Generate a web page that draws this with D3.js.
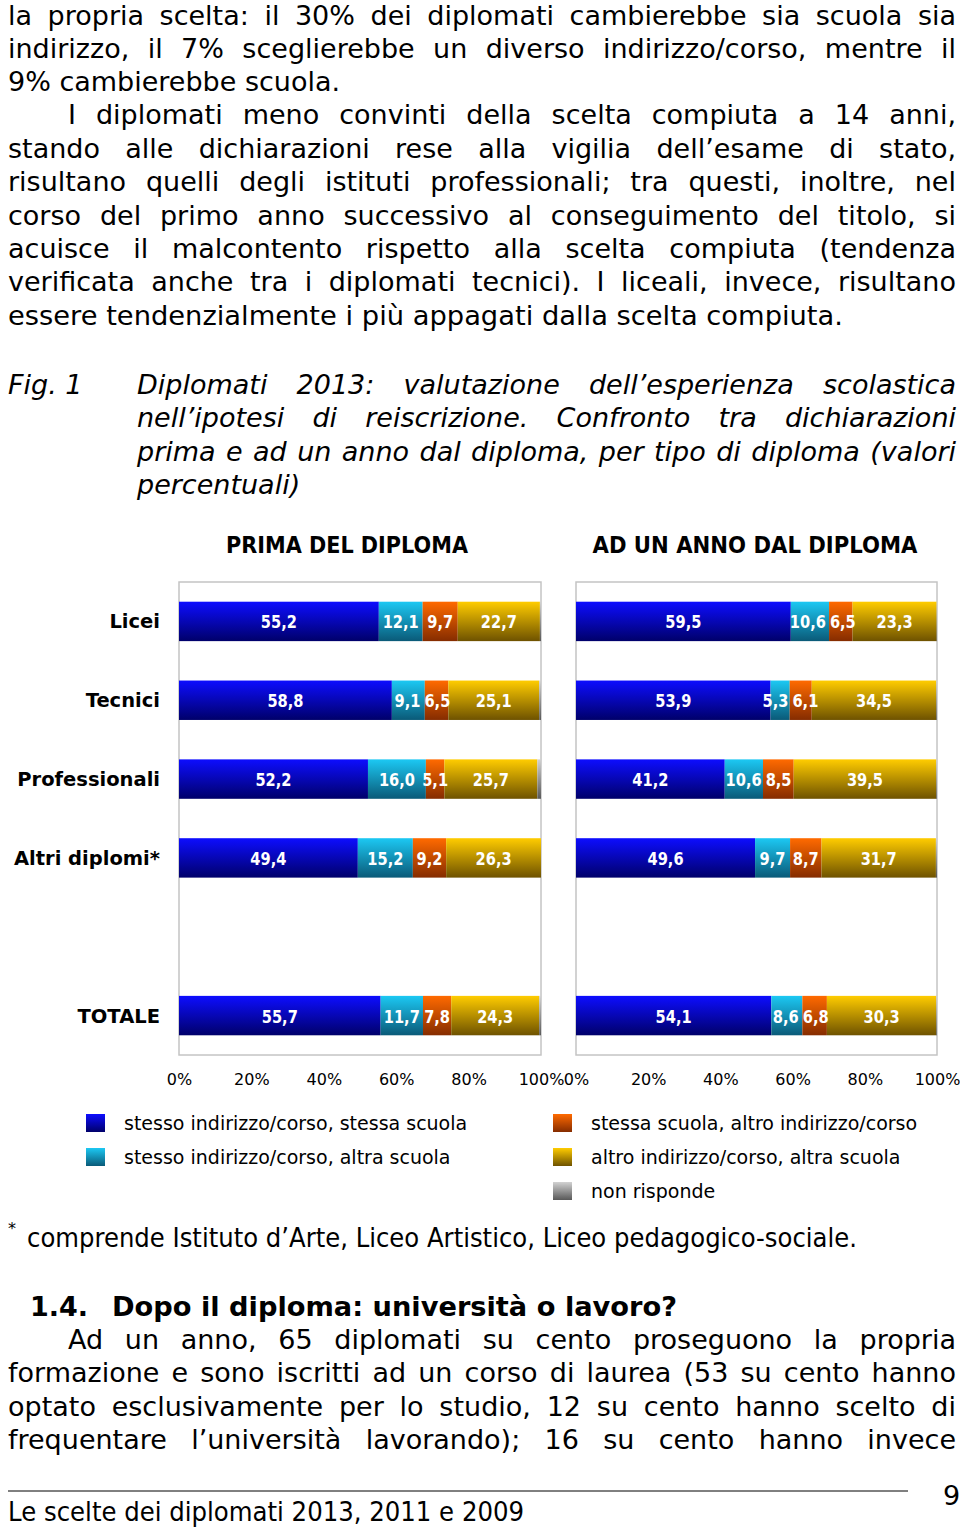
<!DOCTYPE html>
<html><head><meta charset="utf-8">
<script src="https://cdn.jsdelivr.net/npm/d3@7"></script>
<style>body{margin:0;background:#fff} svg{display:block}</style>
</head><body>
<svg id="c" width="960" height="1528"></svg>
<script>
// ---------- DATA ----------
const categories = ["Licei", "Tecnici", "Professionali", "Altri diplomi*", "TOTALE"];
const rowSlots = ["Licei", "Tecnici", "Professionali", "Altri diplomi*", "", "TOTALE"];
const seriesNames = [
  "stesso indirizzo/corso, stessa scuola",
  "stesso indirizzo/corso, altra scuola",
  "stessa scuola, altro indirizzo/corso",
  "altro indirizzo/corso, altra scuola",
  "non risponde"
];
const panelTitles = ["PRIMA DEL DIPLOMA", "AD UN ANNO DAL DIPLOMA"];
// Prima del diploma
const prima_stessoStessa   = [55.2, 58.8, 52.2, 49.4, 55.7];
const prima_stessoAltra    = [12.1,  9.1, 16.0, 15.2, 11.7];
const prima_scuolaAltroInd = [ 9.7,  6.5,  5.1,  9.2,  7.8];
const prima_altroAltra     = [22.7, 25.1, 25.7, 26.3, 24.3];
const prima_nonRisponde    = [ 0.3,  0.5,  1.0,  0.0,  0.5];
// Ad un anno dal diploma
const dopo_stessoStessa    = [59.5, 53.9, 41.2, 49.6, 54.1];
const dopo_stessoAltra     = [10.6,  5.3, 10.6,  9.7,  8.6];
const dopo_scuolaAltroInd  = [ 6.5,  6.1,  8.5,  8.7,  6.8];
const dopo_altroAltra      = [23.3, 34.5, 39.5, 31.7, 30.3];
const dopo_nonRisponde     = [ 0.1,  0.2,  0.2,  0.3,  0.2];
const tickValues = [0, 20, 40, 60, 80, 100];

// ---------- STYLE ----------
const gradStops = [
  ["#0d0dff", "#00006a"],
  ["#1cc8f3", "#0a5a78"],
  ["#ff6a00", "#852c00"],
  ["#ffcc00", "#6e5200"],
  ["#d2d2d2", "#585858"]
];
const FONT = "DejaVu Sans, Verdana, sans-serif";

const svg = d3.select("#c");
svg.append("rect").attr("width", 960).attr("height", 1528).attr("fill", "#fff");
const defs = svg.append("defs");
gradStops.forEach((s, i) => {
  const g = defs.append("linearGradient").attr("id", "g" + i)
    .attr("x1", 0).attr("y1", 0).attr("x2", 0).attr("y2", 1);
  g.append("stop").attr("offset", "0%").attr("stop-color", s[0]);
  g.append("stop").attr("offset", "100%").attr("stop-color", s[1]);
});

// ---------- TEXT HELPERS ----------
function line(x, y, str, o = {}) {
  const t = svg.append("text").attr("x", x).attr("y", y).text(str)
    .attr("font-family", o.family || FONT)
    .attr("font-size", o.size || 27).attr("fill", "#000");
  if (o.italic) t.attr("font-style", "italic");
  if (o.bold) t.attr("font-weight", "bold");
  if (o.justify) {
    const w = t.node().getComputedTextLength();
    const n = (str.match(/ /g) || []).length;
    if (n) t.style("word-spacing", ((o.justify - w) / n) + "px");
  }
  if (o.fit) t.attr("textLength", o.fit).attr("lengthAdjust", "spacingAndGlyphs");
  return t;
}

// top paragraph
const L = 8, R = 956;
line(L, 25, "la propria scelta: il 30% dei diplomati cambierebbe sia scuola sia", {justify: R - L});
line(L, 58, "indirizzo, il 7% sceglierebbe un diverso indirizzo/corso, mentre il", {justify: R - L});
line(L, 91, "9% cambierebbe scuola.");
line(68, 124, "I diplomati meno convinti della scelta compiuta a 14 anni,", {justify: R - 68});
line(L, 158, "stando alle dichiarazioni rese alla vigilia dell’esame di stato,", {justify: R - L});
line(L, 191, "risultano quelli degli istituti professionali; tra questi, inoltre, nel", {justify: R - L});
line(L, 225, "corso del primo anno successivo al conseguimento del titolo, si", {justify: R - L});
line(L, 258, "acuisce il malcontento rispetto alla scelta compiuta (tendenza", {justify: R - L});
line(L, 291, "verificata anche tra i diplomati tecnici). I liceali, invece, risultano", {justify: R - L});
line(L, 325, "essere tendenzialmente i più appagati dalla scelta compiuta.", {fit: 835});

// caption
line(L, 394, "Fig. 1", {italic: true});
line(137, 394, "Diplomati 2013: valutazione dell’esperienza scolastica", {italic: true, justify: R - 137});
line(137, 427, "nell’ipotesi di reiscrizione. Confronto tra dichiarazioni", {italic: true, justify: R - 137});
line(137, 461, "prima e ad un anno dal diploma, per tipo di diploma (valori", {italic: true, justify: R - 137});
line(137, 494, "percentuali)", {italic: true});

// ---------- CHART ----------
const plotTop = 582, plotBottom = 1055;
const panels = [
  {x0: 179, x1: 541, titleX: 347, titleW: 242,
   series: [prima_stessoStessa, prima_stessoAltra, prima_scuolaAltroInd, prima_altroAltra, prima_nonRisponde]},
  {x0: 576, x1: 937, titleX: 755, titleW: 325,
   series: [dopo_stessoStessa, dopo_stessoAltra, dopo_scuolaAltroInd, dopo_altroAltra, dopo_nonRisponde]}
];
const y = d3.scaleBand().domain(rowSlots).range([plotTop, plotBottom])
  .paddingInner(0.5).paddingOuter(0.25);
const keys = seriesNames.map((d, i) => "s" + i);
const fmt = v => d3.format(".1f")(v).replace(".", ",");
const LABEL_SQUEEZE = 0.86;

panels.forEach((p, pi) => {
  const x = d3.scaleLinear().domain([0, 100]).range([p.x0, p.x1]).clamp(true);
  const rows = categories.map((c, i) => {
    const r = {cat: c};
    p.series.forEach((s, k) => r["s" + k] = s[i]);
    return r;
  });
  const stacked = d3.stack().keys(keys)(rows);

  const g = svg.append("g");
  g.append("rect").attr("x", p.x0).attr("y", plotTop)
    .attr("width", p.x1 - p.x0).attr("height", plotBottom - plotTop)
    .attr("fill", "#fff").attr("stroke", "#c4c4c4").attr("stroke-width", 1.5);

  // panel title
  g.append("text").attr("x", p.titleX - p.titleW / 2).attr("y", 553)
    .attr("font-family", FONT).attr("font-weight", "bold").attr("font-size", 23)
    .attr("textLength", p.titleW).attr("lengthAdjust", "spacingAndGlyphs")
    .text(panelTitles[pi]);

  stacked.forEach((layer, k) => {
    g.append("g").selectAll("rect").data(layer).join("rect")
      .attr("x", d => x(d[0])).attr("width", d => Math.max(0, x(d[1]) - x(d[0])))
      .attr("y", d => y(d.data.cat)).attr("height", y.bandwidth())
      .attr("fill", `url(#g${k})`);
  });

  // value labels with simple collision avoidance per row
  const lblG = g.append("g");
  categories.forEach((c, ci) => {
    const items = [];
    for (let k = 0; k < 4; k++) {
      const d = stacked[k][ci];
      const t = lblG.append("text")
        .attr("y", y(c) + y.bandwidth() / 2 + 7)
        .attr("fill", "#fff").attr("font-family", FONT)
        .attr("font-weight", "bold").attr("font-size", 17)
        .text(fmt(d[1] - d[0]));
      const w = t.node().getComputedTextLength() * LABEL_SQUEEZE;
      t.attr("textLength", w).attr("lengthAdjust", "spacingAndGlyphs");
      items.push({t, w, cx: (x(d[0]) + x(d[1])) / 2});
    }
    const gap = 4;
    for (let iter = 0; iter < 10; iter++) {
      for (let i = 0; i < items.length - 1; i++) {
        const a = items[i], b = items[i + 1];
        const ov = (a.cx + a.w / 2 + gap) - (b.cx - b.w / 2);
        if (ov > 0) { a.cx -= ov / 2; b.cx += ov / 2; }
      }
    }
    items.forEach(it => it.t.attr("x", it.cx - it.w / 2));
  });

  // x axis
  const ax = g.append("g").attr("transform", `translate(0,${plotBottom + 30})`)
    .call(d3.axisBottom(x).tickValues(tickValues).tickSize(0).tickFormat(d => d + "%"));
  ax.select(".domain").remove();
  ax.selectAll("text").attr("font-family", FONT).attr("font-size", 16).attr("fill", "#000").attr("dy", "-0.2em");
});

// category labels
svg.append("g").selectAll("text").data(categories).join("text")
  .attr("x", 160).attr("y", d => y(d) + y.bandwidth() / 2 + 7)
  .attr("text-anchor", "end").attr("font-family", FONT).attr("font-weight", "bold")
  .attr("font-size", 19.5).attr("fill", "#000").text(d => d);

// legend
const legendPos = [[86, 1123], [86, 1157], [553, 1123], [553, 1157], [553, 1191]];
const lgd = svg.append("g");
seriesNames.forEach((n, i) => {
  const [lx, ly] = legendPos[i];
  lgd.append("rect").attr("x", lx).attr("y", ly - 9).attr("width", 19).attr("height", 18)
    .attr("fill", `url(#g${i})`);
  lgd.append("text").attr("x", lx + 38).attr("y", ly + 7)
    .attr("font-family", FONT).attr("font-size", 19).attr("fill", "#000").text(n);
});

// footnote
line(8, 1234, "*", {size: 16});
line(27, 1247, "comprende Istituto d’Arte, Liceo Artistico, Liceo pedagogico-sociale.", {fit: 830});

// section heading + paragraph
line(30, 1316, "1.4.", {bold: true});
line(112, 1316, "Dopo il diploma: università o lavoro?", {bold: true, fit: 565});
line(68, 1349, "Ad un anno, 65 diplomati su cento proseguono la propria", {justify: R - 68});
line(L, 1382, "formazione e sono iscritti ad un corso di laurea (53 su cento hanno", {justify: R - L});
line(L, 1416, "optato esclusivamente per lo studio, 12 su cento hanno scelto di", {justify: R - L});
line(L, 1449, "frequentare l’università lavorando); 16 su cento hanno invece", {justify: R - L});

// footer
svg.append("line").attr("x1", 8).attr("x2", 908).attr("y1", 1491).attr("y2", 1491)
  .attr("stroke", "#000").attr("stroke-width", 1);
line(943, 1505, "9");
line(8, 1521, "Le scelte dei diplomati 2013, 2011 e 2009", {fit: 516});
</script>
</body></html>
